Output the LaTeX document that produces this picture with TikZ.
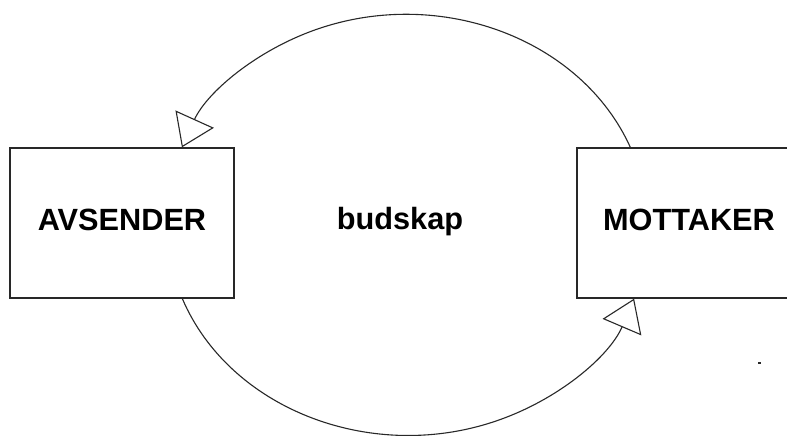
\documentclass[tikz,border=0pt]{standalone}
\usepackage{fontspec}
\setmainfont{Liberation Sans}
\usetikzlibrary{arrows.meta, positioning}
\definecolor{linegray}{RGB}{40, 40, 40}

\begin{document}
\begin{tikzpicture}[
    x=1pt, y=-1pt,
    party/.style={rectangle, draw=linegray, line width=1.3pt, minimum width=224pt, minimum height=150pt, font=\fontsize{30.7}{36}\selectfont\bfseries, text height=22pt, text depth=8pt},
    msg/.style={font=\fontsize{30.7}{36}\selectfont\bfseries, anchor=base, inner sep=0pt},
    flow/.style={draw=linegray, line width=1.1pt, -{Triangle[open, length=31pt, width=42pt, line width=1.1pt]}}
]
    % Canvas
    \fill[white] (0,0) rectangle (787,436);
    \clip (0,0) rectangle (787,436);

    % Parties
    \node[party] (avsender) at (122, 223) {AVSENDER};
    \node[party] (mottaker) at (689, 223) {MOTTAKER};

    % Message
    \node[msg] (budskap) at (400, 229) {budskap};

    % Loop
    \draw[flow] ([xshift=54pt]mottaker.north west) arc[start angle=-21.5, end angle=-158.5, x radius=241, y radius=210];
    \draw[flow] ([xshift=173pt]avsender.south west) arc[start angle=159.6, end angle=20.4, x radius=241, y radius=210];

    % Stray mark
    \fill[linegray] (757.5, 362) rectangle (760.5, 364);
\end{tikzpicture}
\end{document}
